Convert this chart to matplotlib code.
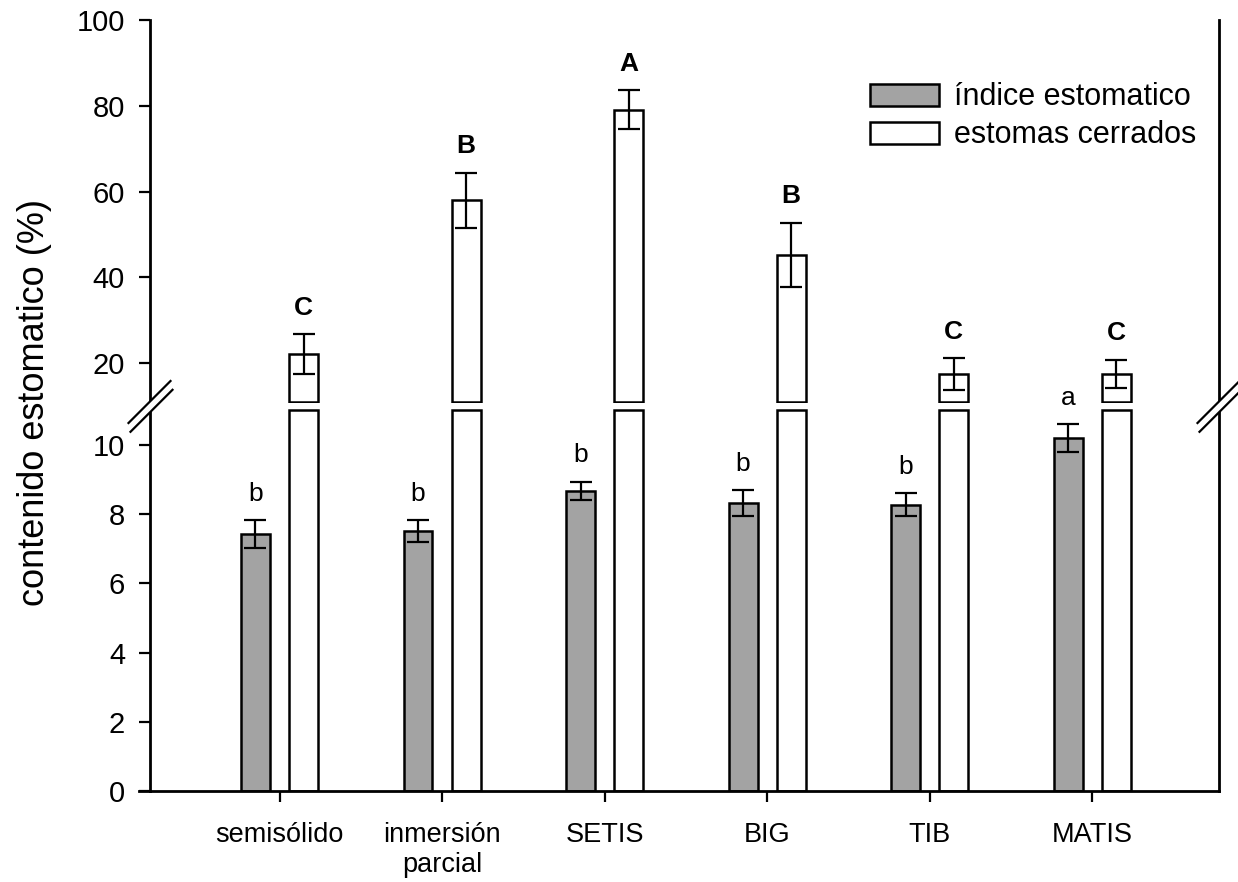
import matplotlib.pyplot as plt
import numpy as np
from matplotlib.patches import Patch, Polygon
from matplotlib.lines import Line2D

# datos
tratamientos = ['semisólido', 'inmersión\nparcial', 'SETIS', 'BIG', 'TIB', 'MATIS']
indice = [7.43, 7.52, 8.68, 8.32, 8.28, 10.2]
indice_err = [0.40, 0.31, 0.26, 0.38, 0.32, 0.40]
cerrados = [22.1, 58.0, 79.1, 45.2, 17.4, 17.5]
cerrados_err = [4.6, 6.4, 4.5, 7.5, 3.7, 3.3]
letras_indice = ['b', 'b', 'b', 'b', 'b', 'a']
letras_cerrados = ['C', 'B', 'A', 'B', 'C', 'C']
nombres = ['índice estomatico', 'estomas cerrados']

plt.rcParams['font.family'] = ['Liberation Sans', 'DejaVu Sans']

W_PX, H_PX = 1238, 882
gris = '#a3a3a3'
lw = 1.8

fig = plt.figure(figsize=(W_PX / 100, H_PX / 100), dpi=100)

def fx(x):
    return x / W_PX

def fy(y):
    return 1 - y / H_PX

x_left, x_right = 150, 1219
lo_bot, lo_top = 791, 405
hi_bot, hi_top = 403, 20

ax_lo = fig.add_axes([fx(x_left), fy(lo_bot), fx(x_right) - fx(x_left), (lo_bot - lo_top) / H_PX])
ax_hi = fig.add_axes([fx(x_left), fy(hi_bot), fx(x_right) - fx(x_left), (hi_bot - hi_top) / H_PX])

x = np.arange(len(tratamientos))
width = 0.178
off = 0.148
corte = 11.0

# parte inferior
ax_lo.bar(x - off, indice, width, color=gris, edgecolor='black', linewidth=lw, zorder=2)
ax_lo.errorbar(x - off, indice, yerr=indice_err, fmt='none', ecolor='black',
               elinewidth=1.6, capsize=8, capthick=1.6, zorder=3)
ax_lo.bar(x + off, [corte] * len(x), width, color='white', edgecolor='black', linewidth=lw, zorder=2)

for xi, v, e, t in zip(x, indice, indice_err, letras_indice):
    ax_lo.annotate(t, (xi - off, v + e), xytext=(0, 14), textcoords='offset points',
                   ha='center', va='baseline', fontsize=19)

ax_lo.set_xlim(-0.797, 5.78)
ax_lo.set_ylim(0, (lo_bot - lo_top) / 34.6)
ax_lo.set_yticks(np.arange(0, 11, 2))
ax_lo.set_xticks(x)
ax_lo.set_xticklabels(tratamientos, fontsize=19.5)
for lab in ax_lo.get_xticklabels():
    lab.set_linespacing(1.22)
ax_lo.spines['top'].set_visible(False)

# parte superior
ax_hi.bar(x + off, np.array(cerrados) - corte, width, bottom=corte, color='white',
          edgecolor='black', linewidth=lw, zorder=2)
ax_hi.errorbar(x + off, cerrados, yerr=cerrados_err, fmt='none', ecolor='black',
               elinewidth=1.6, capsize=8, capthick=1.6, zorder=3)
for xi, v, e, t in zip(x, cerrados, cerrados_err, letras_cerrados):
    ax_hi.annotate(t, (xi + off, v + e), xytext=(0, 14), textcoords='offset points',
                   ha='center', va='baseline', fontsize=19, fontweight='bold')

ax_hi.set_xlim(-0.797, 5.78)
ax_hi.set_ylim(10.7, 100)
ax_hi.set_yticks([20, 40, 60, 80, 100])
ax_hi.spines['top'].set_visible(False)
ax_hi.spines['bottom'].set_visible(False)
ax_hi.tick_params(axis='x', bottom=False, labelbottom=False)

for ax in (ax_lo, ax_hi):
    ax.patch.set_alpha(0)
    for s in ax.spines.values():
        s.set_linewidth(2.0)
    ax.tick_params(axis='y', direction='out', length=8, width=1.6, labelsize=21, pad=10, right=False)
    ax.tick_params(axis='x', direction='out', length=8, width=1.6, pad=14)

# eje x prolongado a la izquierda
fig.add_artist(Line2D([fx(139), fx(x_left)], [fy(lo_bot), fy(lo_bot)], color='black',
                      linewidth=2.0, transform=fig.transFigure))

# marcas de corte
for sx in (x_left, x_right):
    p1 = [(sx - 21.5, 423), (sx + 20.5, 381)]
    p2 = [(sx - 19.5, 431.8), (sx + 22.5, 389.8)]
    poly = [p1[0], p1[1], p2[1], p2[0]]
    fig.add_artist(Polygon([(fx(a), fy(b)) for a, b in poly], closed=True, facecolor='white',
                           edgecolor='none', transform=fig.transFigure, zorder=10))
    for p in (p1, p2):
        fig.add_artist(Line2D([fx(p[0][0]), fx(p[1][0])], [fy(p[0][1]), fy(p[1][1])],
                              color='black', linewidth=1.6, transform=fig.transFigure, zorder=11))

fig.text(fx(35), fy(403), 'contenido estomatico (%)', rotation=90, ha='center', va='center', fontsize=26)

handles = [Patch(facecolor=gris, edgecolor='black', linewidth=lw, label=nombres[0]),
           Patch(facecolor='white', edgecolor='black', linewidth=lw, label=nombres[1])]
ax_hi.legend(handles=handles, loc='upper left', bbox_to_anchor=(0.6735, 0.837), frameon=False,
             fontsize=22, handlelength=2.25, handleheight=0.75, handletextpad=0.5,
             labelspacing=0.26, borderpad=0, borderaxespad=0)

fig.savefig('out.png', dpi=100)
